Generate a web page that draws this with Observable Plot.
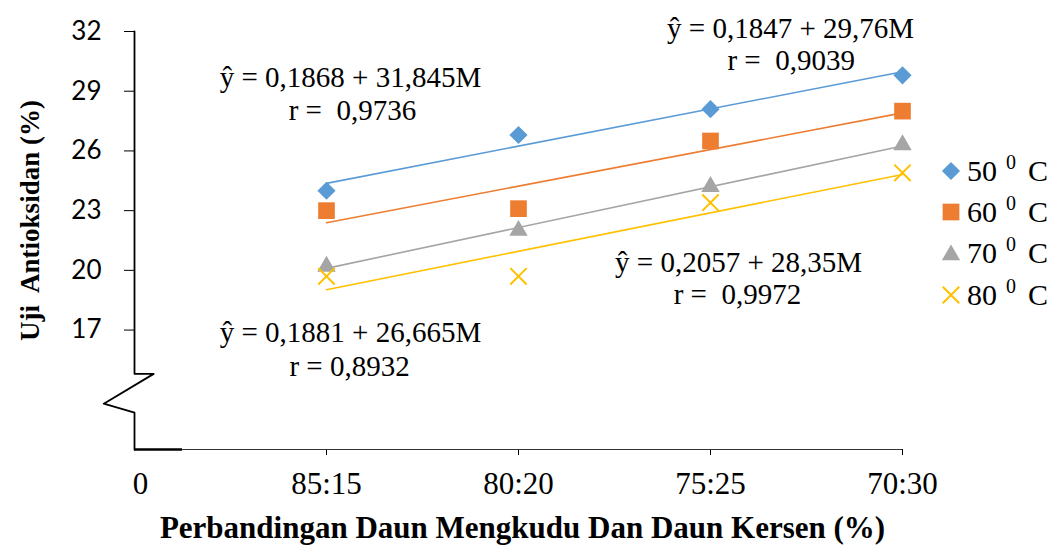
<!DOCTYPE html>
<html><head><meta charset="utf-8">
<script src="https://cdn.jsdelivr.net/npm/d3@7"></script>
<script src="https://cdn.jsdelivr.net/npm/@observablehq/plot@0.6"></script>
<style>
body{margin:0;background:#fff;}
#chart{position:relative;width:1055px;height:549px;}
#legend{position:absolute;left:941px;top:150px;font-family:"Liberation Serif",serif;font-size:30px;color:#000;}
.row{height:41.3px;display:flex;align-items:center;white-space:nowrap;}
.row svg{margin-right:6px;}
.sup{font-size:20px;position:relative;top:-12px;margin:0 12px 0 9px;}
</style></head><body><div id="chart"></div>
<script>
const categories = ["0", "85:15", "80:20", "75:25", "70:30"];
const seriesNames = ["50", "60", "70", "80"];
const t50 = [24.0, 26.8, 28.1, 29.8];
const t60 = [23.0, 23.1, 26.5, 28.0];
const t70 = [20.2, 22.0, 24.2, 26.3];
const t80 = [19.7, 19.7, 23.4, 24.9];
const yTicks = [17, 20, 23, 26, 29, 32];
const colors = ["#5B9BD5", "#ED7D31", "#A5A5A5", "#FFC000"];
const symbolNames = ["diamond2", "square", "triangle2", "times"];
const eqLines = ["ŷ = 0,1868 + 31,845M", "r =\u00a0 0,9736", "ŷ = 0,1847 + 29,76M", "r =\u00a0 0,9039",
                 "ŷ = 0,2057 + 28,35M", "r =\u00a0 0,9972", "ŷ = 0,1881 + 26,665M", "r = 0,8932"];
const eqX = [1.125, 1.135, 3.417, 3.42, 3.146, 3.14, 1.125, 1.12];
const eqY = [29.69, 28.03, 32.15, 30.54, 20.39, 18.78, 16.87, 15.17];
const breakX = [0, 0, 0.1, -0.16, 0, 0];
const breakY = [32, 14.8, 14.8, 13.3, 12.85, 11];
const xTitle = "Perbandingan Daun Mengkudu Dan Daun Kersen (%)";
const yTitle = "Uji\u00a0 Antioksidan (%)";

const allSeries = [t50, t60, t70, t80];
const rows = allSeries.flatMap((vals, i) => vals.map((v, j) => ({series: seriesNames[i], x: j + 1, y: v})));
const eqs = eqLines.map((t, i) => ({t, x: eqX[i], y: eqY[i]}));
const brk = breakX.map((x, i) => ({x, y: breakY[i]}));

const dotMarks = seriesNames.map((s, i) => {
  const d = rows.filter(r => r.series === s);
  const sym = symbolNames[i];
  if (sym === "times") return Plot.dot(d, {x: "x", y: "y", symbol: sym, r: 7.5, stroke: colors[i], strokeWidth: 2, fill: "none"});
  const r = sym === "diamond2" ? 8.2 : sym === "square" ? 9.4 : 8.8;
  return Plot.dot(d, {x: "x", y: "y", symbol: sym, r, fill: colors[i], stroke: "none"});
});
const regMarks = seriesNames.map((s, i) =>
  Plot.linearRegressionY(rows.filter(r => r.series === s), {x: "x", y: "y", stroke: colors[i], strokeWidth: 1.6, ci: 0}));

const plot = Plot.plot({
  width: 1055, height: 549,
  marginLeft: 134, marginRight: 153, marginTop: 31, marginBottom: 100,
  x: {domain: [0, 4]},
  y: {domain: [11, 32]},
  marks: [
    Plot.axisY({ticks: yTicks, tickSize: 10, tickPadding: 23, fontFamily: "Lato", fontSize: 26, label: null, stroke: "#000", color: "#000"}),
    Plot.axisX({ticks: [1, 2, 3, 4], tickFormat: d => categories[d], tickSize: 6, tickPadding: 16, fontFamily: "Liberation Serif", fontSize: 31, label: null, color: "#000"}),
    Plot.axisX({ticks: [0], tickFormat: d => categories[d], tickSize: 0, tickPadding: 22, dx: 6, fontFamily: "Liberation Serif", fontSize: 31, label: null, color: "#000"}),
    Plot.ruleY([11], {x1: 0, x2: 4, stroke: "#333", strokeWidth: 1}),
    Plot.ruleY([11], {x1: 0, x2: 0.25, stroke: "#000", strokeWidth: 2.5}),
    Plot.line(brk, {x: "x", y: "y", stroke: "#000", strokeWidth: 1.8}),
    ...regMarks,
    ...dotMarks,
    Plot.text(eqs, {x: "x", y: "y", text: "t", fontFamily: "Liberation Serif", fontSize: 29, fill: "#000"}),
    Plot.text([xTitle], {frameAnchor: "bottom", dy: 88, dx: 4, fontFamily: "Liberation Serif", fontWeight: "bold", fontSize: 31, fill: "#000"}),
    Plot.text([yTitle], {frameAnchor: "left", textAnchor: "middle", rotate: -90, dx: -104, dy: -20, fontFamily: "Liberation Serif", fontWeight: "bold", fontSize: 27, fill: "#000"})
  ]
});
const chart = document.getElementById("chart");
chart.appendChild(plot);

const legend = document.createElement("div");
legend.id = "legend";
seriesNames.forEach((s, i) => {
  const row = document.createElement("div");
  row.className = "row";
  const svg = d3.create("svg").attr("width", 20).attr("height", 20);
  const symMap = {diamond2: d3.symbolDiamond2, square: d3.symbolSquare, triangle2: d3.symbolTriangle2, times: d3.symbolTimes};
  const size = {diamond2: 210, square: 280, triangle2: 240, times: 180}[symbolNames[i]];
  const p = svg.append("path").attr("transform", symbolNames[i] === "triangle2" ? "translate(10,12)" : "translate(10,10)")
    .attr("d", d3.symbol(symMap[symbolNames[i]], size)());
  if (symbolNames[i] === "times") p.attr("fill", "none").attr("stroke", colors[i]).attr("stroke-width", 2);
  else p.attr("fill", colors[i]);
  row.appendChild(svg.node());
  const t = document.createElement("span");
  t.innerHTML = s + '<span class="sup">0</span>C';
  row.appendChild(t);
  legend.appendChild(row);
});
chart.appendChild(legend);
</script></body></html>
